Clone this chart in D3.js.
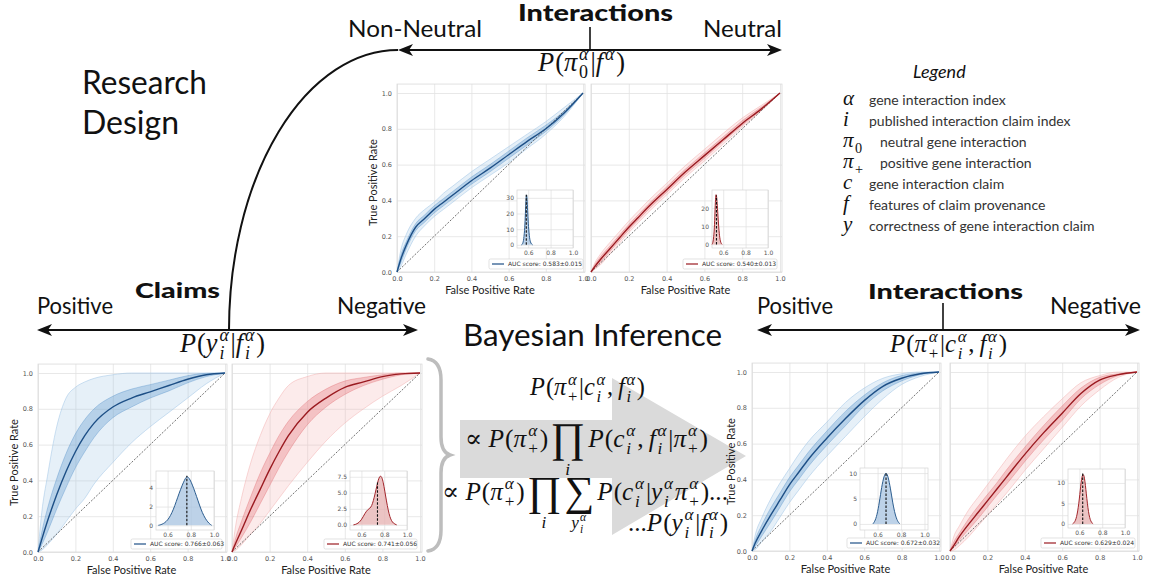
<!DOCTYPE html>
<html>
<head>
<meta charset="utf-8">
<script src="https://d3js.org/d3.v7.min.js"></script>
<style>
  body { margin: 0; background: #fff; }
  text { fill: #111; }
</style>
</head>
<body>
<div id="chart"></div>
<script>

// ---------------- DATA ----------------

// common false positive rate grid for every ROC curve
var fprGrid = [0, 0.02, 0.05, 0.1, 0.15, 0.2, 0.25, 0.3, 0.4, 0.5, 0.6, 0.7, 0.8, 0.9, 1.0];

// top-left: interactions, neutral model (blue)
var tlMean  = [0, 0.07, 0.15, 0.25, 0.30, 0.35, 0.39, 0.43, 0.51, 0.58, 0.655, 0.73, 0.80, 0.89, 1];
var tlInLo  = [0, 0.05, 0.13, 0.23, 0.28, 0.33, 0.37, 0.41, 0.49, 0.56, 0.635, 0.71, 0.785, 0.88, 1];
var tlInHi  = [0, 0.09, 0.17, 0.27, 0.32, 0.37, 0.41, 0.45, 0.53, 0.60, 0.675, 0.75, 0.82, 0.90, 1];
var tlOutLo = [0, 0.03, 0.10, 0.20, 0.26, 0.31, 0.35, 0.39, 0.47, 0.54, 0.61, 0.69, 0.77, 0.87, 1];
var tlOutHi = [0, 0.12, 0.21, 0.30, 0.35, 0.39, 0.44, 0.48, 0.56, 0.63, 0.70, 0.77, 0.84, 0.92, 1];

// top-right (red)
var trMean  = [0, 0.03, 0.07, 0.13, 0.19, 0.25, 0.305, 0.36, 0.46, 0.56, 0.65, 0.74, 0.83, 0.91, 1];
var trInLo  = [0, 0.02, 0.055, 0.115, 0.175, 0.235, 0.29, 0.345, 0.445, 0.545, 0.635, 0.73, 0.82, 0.905, 1];
var trInHi  = [0, 0.04, 0.085, 0.145, 0.205, 0.265, 0.32, 0.375, 0.475, 0.575, 0.665, 0.755, 0.845, 0.92, 1];
var trOutLo = [0, 0.015, 0.04, 0.10, 0.16, 0.22, 0.275, 0.33, 0.43, 0.53, 0.62, 0.715, 0.81, 0.90, 1];
var trOutHi = [0, 0.05, 0.10, 0.165, 0.225, 0.285, 0.34, 0.395, 0.495, 0.595, 0.685, 0.775, 0.86, 0.93, 1];

// bottom-left: claims (blue)
var bl1Mean  = [0, 0.07, 0.17, 0.32, 0.45, 0.56, 0.65, 0.72, 0.81, 0.86, 0.895, 0.93, 0.965, 0.99, 1];
var bl1InLo  = [0, 0.04, 0.11, 0.24, 0.36, 0.47, 0.56, 0.64, 0.75, 0.81, 0.86, 0.90, 0.945, 0.98, 1];
var bl1InHi  = [0, 0.11, 0.24, 0.41, 0.55, 0.66, 0.74, 0.80, 0.87, 0.91, 0.935, 0.96, 0.985, 0.998, 1];
var bl1OutLo = [0, 0.01, 0.04, 0.10, 0.17, 0.24, 0.30, 0.38, 0.50, 0.61, 0.70, 0.78, 0.86, 0.94, 1];
var bl1OutHi = [0, 0.22, 0.42, 0.70, 0.86, 0.92, 0.95, 0.97, 0.99, 1, 1, 1, 1, 1, 1];

// bottom-left: claims (red)
var bl2Mean  = [0, 0.05, 0.12, 0.24, 0.35, 0.46, 0.56, 0.65, 0.78, 0.86, 0.92, 0.95, 0.98, 0.995, 1];
var bl2InLo  = [0, 0.03, 0.08, 0.17, 0.27, 0.37, 0.47, 0.56, 0.71, 0.81, 0.88, 0.93, 0.965, 0.99, 1];
var bl2InHi  = [0, 0.08, 0.17, 0.31, 0.44, 0.55, 0.65, 0.73, 0.84, 0.91, 0.955, 0.975, 0.99, 1, 1];
var bl2OutLo = [0, 0.01, 0.04, 0.10, 0.16, 0.23, 0.30, 0.37, 0.50, 0.62, 0.72, 0.80, 0.87, 0.93, 1];
var bl2OutHi = [0, 0.15, 0.30, 0.50, 0.65, 0.77, 0.86, 0.93, 0.98, 1, 1, 1, 1, 1, 1];

// bottom-right: interactions (blue)
var br1Mean  = [0, 0.05, 0.11, 0.20, 0.285, 0.37, 0.44, 0.51, 0.63, 0.74, 0.84, 0.92, 0.965, 0.99, 1];
var br1InLo  = [0, 0.03, 0.08, 0.16, 0.245, 0.33, 0.40, 0.47, 0.59, 0.70, 0.81, 0.895, 0.95, 0.985, 1];
var br1InHi  = [0, 0.07, 0.14, 0.24, 0.325, 0.41, 0.48, 0.55, 0.67, 0.78, 0.87, 0.94, 0.98, 0.995, 1];
var br1OutLo = [0, 0.01, 0.05, 0.11, 0.19, 0.27, 0.34, 0.41, 0.53, 0.64, 0.75, 0.85, 0.93, 0.975, 1];
var br1OutHi = [0, 0.10, 0.18, 0.29, 0.38, 0.46, 0.54, 0.61, 0.72, 0.83, 0.91, 0.965, 0.99, 1, 1];

// bottom-right: interactions (red)
var br2Mean  = [0, 0.03, 0.08, 0.15, 0.215, 0.28, 0.345, 0.41, 0.54, 0.66, 0.77, 0.88, 0.955, 0.985, 1];
var br2InLo  = [0, 0.02, 0.06, 0.12, 0.18, 0.245, 0.31, 0.37, 0.50, 0.62, 0.73, 0.85, 0.93, 0.98, 1];
var br2InHi  = [0, 0.05, 0.10, 0.18, 0.25, 0.315, 0.38, 0.45, 0.58, 0.70, 0.81, 0.91, 0.97, 0.99, 1];
var br2OutLo = [0, 0.005, 0.03, 0.08, 0.14, 0.20, 0.26, 0.32, 0.45, 0.57, 0.69, 0.81, 0.90, 0.97, 1];
var br2OutHi = [0, 0.08, 0.14, 0.23, 0.30, 0.37, 0.44, 0.51, 0.64, 0.75, 0.85, 0.94, 0.98, 1, 1];

// AUC density insets
var tlKdeX  = [0.54, 0.55, 0.56, 0.57, 0.575, 0.58, 0.585, 0.59, 0.595, 0.60, 0.61, 0.62, 0.63, 0.64];
var tlKdeY  = [0, 0.5, 3, 11, 20, 29, 33, 30, 22, 14, 5, 1.5, 0.5, 0];
var trKdeX  = [0.50, 0.51, 0.52, 0.525, 0.53, 0.535, 0.54, 0.545, 0.55, 0.56, 0.57, 0.58, 0.59];
var trKdeY  = [0, 1, 7, 15, 24, 28, 27, 24, 19, 9, 3, 0.6, 0];
var bl1KdeX = [0.52, 0.55, 0.6, 0.65, 0.7, 0.75, 0.77, 0.8, 0.85, 0.9, 0.95, 0.98];
var bl1KdeY = [0, 0.08, 0.45, 1.6, 3.5, 5.0, 5.3, 4.8, 3.1, 1.2, 0.25, 0];
var bl2KdeX = [0.53, 0.56, 0.6, 0.63, 0.66, 0.69, 0.72, 0.75, 0.77, 0.79, 0.82, 0.85, 0.88, 0.91];
var bl2KdeY = [0, 0.1, 0.7, 1.8, 2.5, 2.7, 4.8, 7.3, 7.8, 7.0, 3.6, 1.0, 0.2, 0];
var br1KdeX = [0.56, 0.58, 0.6, 0.62, 0.64, 0.66, 0.675, 0.69, 0.71, 0.73, 0.75, 0.77, 0.79];
var br1KdeY = [0, 0.6, 2.2, 5, 8, 9.8, 10.1, 9.3, 7, 4, 1.8, 0.5, 0];
var br2KdeX = [0.54, 0.56, 0.58, 0.6, 0.615, 0.63, 0.645, 0.66, 0.68, 0.70, 0.72];
var br2KdeY = [0, 0.4, 2, 6, 10.5, 12.5, 11.5, 7.5, 2.5, 0.5, 0];

var aucMeans  = [0.583, 0.540, 0.766, 0.741, 0.672, 0.629];
var dashTops  = [32, 27, 5.3, 6.6, 10, 12.5];
var aucLabels = ["AUC score: 0.583±0.015", "AUC score: 0.540±0.013",
                 "AUC score: 0.766±0.063", "AUC score: 0.741±0.056",
                 "AUC score: 0.672±0.032", "AUC score: 0.629±0.024"];

var rocTicks    = [0, 0.2, 0.4, 0.6, 0.8, 1.0];
var insetXTicks = [0.6, 0.8, 1.0];
var insetYTicks = [[0, 10, 20, 30], [0, 10, 20], [0, 2, 4], [0, 2.5, 5, 7.5], [0, 5, 10], [0, 5, 10]];
var insetYFmt   = ["d", "d", "d", ".1f", "d", "d"];

var legendTexts = ["gene interaction index", "published interaction claim index",
                   "neutral gene interaction", "positive gene interaction",
                   "gene interaction claim", "features of claim provenance",
                   "correctness of gene interaction claim"];

// ---------------- SETUP ----------------

var W = 1149, H = 582;
var SANS = "Lato, 'Open Sans', sans-serif";
var SERIF = "'Liberation Serif', 'DejaVu Serif', serif";

var palette = {
    blue: { out: "#9cc2e4", inn: "#4a8ac6", line: "#1d4f86", kde: "#a7c3e0", kdeLine: "#2c5d8f" },
    red:  { out: "#f3b0b0", inn: "#e0646a", line: "#9a1a20", kde: "#e6b0b0", kdeLine: "#a3262c" }
};

var svg = d3.select("#chart").append("svg")
    .attr("width", W)
    .attr("height", H);

svg.append("rect").attr("width", W).attr("height", H).attr("fill", "#fff");

// math token helpers
function V(t) { return { t: t, it: true, pad: 0 }; }
function R(t, pad) { return { t: t, it: false, pad: pad || 0 }; }
function S(sup, sub, subUp) { return { sup: sup, sub: sub, subUp: subUp, isScript: true }; }
function OP(o, under) { return { op: o, under: under }; }

function drawMath(parent, tokens, size) {
    var g = parent.append("g").attr("font-family", SERIF);
    var x = 0;
    tokens.forEach(function(tk) {
        if (tk.op) {
            var big = g.append("text").attr("x", x).attr("y", size * 0.2)
                .attr("font-size", size * 1.65).text(tk.op);
            var w = big.node().getComputedTextLength();
            if (tk.under) {
                var u = drawMath(g, tk.under, size * 0.68);
                u.g.attr("transform", "translate(" + (x + (w - u.w) / 2) + "," + (size * 1.1) + ")");
            }
            x += w + size * 0.12;
        } else if (tk.isScript) {
            var ww = 0;
            if (tk.sup) {
                var e1 = g.append("text").attr("x", x + size * 0.03).attr("y", -size * 0.42)
                    .attr("font-size", size * 0.68).attr("font-style", "italic").text(tk.sup);
                ww = Math.max(ww, e1.node().getComputedTextLength());
            }
            if (tk.sub) {
                var e2 = g.append("text").attr("x", x + size * 0.03).attr("y", size * 0.28)
                    .attr("font-size", size * 0.68).attr("font-style", tk.subUp ? "normal" : "italic").text(tk.sub);
                ww = Math.max(ww, e2.node().getComputedTextLength());
            }
            x += ww + size * 0.1;
        } else {
            var e = g.append("text").attr("x", x).attr("font-size", size)
                .attr("font-style", tk.it ? "italic" : "normal").text(tk.t);
            x += e.node().getComputedTextLength() + tk.pad * size + (tk.it ? size * 0.04 : 0);
        }
    });
    return { g: g, w: x };
}

// place formula with left edge x, baseline y, scaled to target width
function placeMath(tokens, x, y, targetW) {
    var m = drawMath(svg, tokens, 20);
    var k = targetW / m.w;
    m.g.attr("transform", "translate(" + x + "," + y + ") scale(" + k + ")");
}

function label(txt, x, y, size, opt) {
    opt = opt || {};
    var t = svg.append("text")
        .attr("x", x).attr("y", y)
        .attr("font-family", SANS)
        .attr("font-size", size)
        .attr("font-weight", opt.bold ? 900 : 400)
        .attr("font-style", opt.italic ? "italic" : "normal")
        .text(txt);
    if (opt.width) t.attr("textLength", opt.width).attr("lengthAdjust", "spacingAndGlyphs");
    return t;
}

function arrowHead(tx, ty, dir) {
    // dir: -1 points left, +1 points right
    var d = "M" + tx + "," + ty +
        " L" + (tx - dir * 15) + "," + (ty - 6) +
        " L" + (tx - dir * 11) + "," + ty +
        " L" + (tx - dir * 15) + "," + (ty + 6) + " Z";
    svg.append("path").attr("d", d).attr("fill", "#111");
}

function axisLine(xa, xb, y) {
    svg.append("line").attr("x1", xa + 4).attr("x2", xb - 4).attr("y1", y).attr("y2", y)
        .attr("stroke", "#111").attr("stroke-width", 2);
    arrowHead(xa, y, -1);
    arrowHead(xb, y, 1);
}

// ---------------- BACKGROUND DECORATION ----------------

// big gray arrow behind the inference formulas
svg.append("path")
    .attr("d", "M460,420 L612,420 L612,378 L746,456 L612,535 L612,478 L460,478 Z")
    .attr("fill", "#dadada");

// curly brace
svg.append("path")
    .attr("d", "M428,359 Q441,361 441,380 L441,437 Q441,452 450,455 Q441,458 441,473 L441,530 Q441,549 428,551")
    .attr("fill", "none").attr("stroke", "#bdbdbd").attr("stroke-width", 3.5).attr("stroke-linecap", "round");

// ---------------- AXES / HEADERS ----------------

axisLine(398, 782, 50);
svg.append("line").attr("x1", 590).attr("x2", 590).attr("y1", 27).attr("y2", 50)
    .attr("stroke", "#111").attr("stroke-width", 1.6);

axisLine(37, 418, 330);
svg.append("path").attr("d", "M229,330 A169,280 0 0 1 398,50")
    .attr("fill", "none").attr("stroke", "#111").attr("stroke-width", 2);

axisLine(757, 1140, 330);
svg.append("line").attr("x1", 943).attr("x2", 943).attr("y1", 303).attr("y2", 330)
    .attr("stroke", "#111").attr("stroke-width", 1.6);

label("Interactions", 518, 21, 22, { bold: true, width: 155 });
label("Non-Neutral", 348, 37, 24, { width: 134 });
label("Neutral", 703, 37, 24, { width: 79 });
label("Research", 82, 94, 33, { width: 125 });
label("Design", 82, 134, 33, { width: 97 });
label("Claims", 135, 298, 21, { bold: true, width: 85 });
label("Positive", 37, 314, 23, { width: 76 });
label("Negative", 337, 314, 23, { width: 89 });
label("Interactions", 868, 299, 21, { bold: true, width: 155 });
label("Positive", 757, 314, 23, { width: 76 });
label("Negative", 1050, 314, 23, { width: 91 });
label("Bayesian Inference", 463, 346, 31, { width: 259 });

// formulas
var fTop    = [V("P"), R("("), V("π"), S("α", "0", true), R("|"), V("f"), S("α"), R(")")];
var fClaims = [V("P"), R("("), V("y"), S("α", "i"), R("|"), V("f"), S("α", "i"), R(")")];
var fInter  = [V("P"), R("("), V("π"), S("α", "+", true), R("|"), V("c"), S("α", "i"), R(",", 0.2), V("f"), S("α", "i"), R(")")];
var fLine2  = [R("∝", 0.25), V("P"), R("("), V("π"), S("α", "+", true), R(")", 0.1), OP("∏", [V("i")]),
               V("P"), R("("), V("c"), S("α", "i"), R(",", 0.2), V("f"), S("α", "i"), R("|"), V("π"), S("α", "+", true), R(")")];
var fLine3  = [R("∝", 0.25), V("P"), R("("), V("π"), S("α", "+", true), R(")", 0.1), OP("∏", [V("i")]),
               OP("∑", [V("y"), S("α", "i")]), V("P"), R("("), V("c"), S("α", "i"), R("|"), V("y"), S("α", "i"),
               V("π"), S("α", "+", true), R(")...")];
var fLine4  = [R("..."), V("P"), R("("), V("y"), S("α", "i"), R("|"), V("f"), S("α", "i"), R(")")];

placeMath(fTop, 538, 71, 87);
placeMath(fClaims, 180, 352, 85);
placeMath(fInter, 890, 352, 117);
placeMath(fInter, 530, 395, 115);
placeMath(fLine2, 465, 447, 243);
placeMath(fLine3, 442, 500, 286);
placeMath(fLine4, 628, 531, 100);

// ---------------- LEGEND ----------------

label("Legend", 913, 78, 18, { italic: true });
var legendSymbols = [
    [V("α")], [V("i")], [V("π"), S(null, "0", true)], [V("π"), S(null, "+", true)],
    [V("c")], [V("f")], [V("y")]
];
legendTexts.forEach(function(t, i) {
    var yb = 105 + i * 21;
    var m = drawMath(svg, legendSymbols[i], 21);
    m.g.attr("transform", "translate(843," + yb + ")");
    svg.append("text")
        .attr("x", (i === 2 || i === 3) ? 880 : 869).attr("y", yb)
        .attr("font-family", SANS).attr("font-size", 14).style("fill", "#333")
        .text(t);
});

// ---------------- ROC PANELS ----------------

var panels = [
    { x0: 397, x1: 583, yb: 272, yt: 93, col: "blue", yLab: true, labX: 377,
      mean: tlMean, inLo: tlInLo, inHi: tlInHi, outLo: tlOutLo, outHi: tlOutHi, kx: tlKdeX, ky: tlKdeY,
      inset: { x: 517, y: 190, w: 56, h: 58, xd: [0.5, 1.0], yd: [-2, 35] }, leg: { x: 489, y: 259, w: 94 } },
    { x0: 591, x1: 780, yb: 272, yt: 93, col: "red", yLab: false,
      mean: trMean, inLo: trInLo, inHi: trInHi, outLo: trOutLo, outHi: trOutHi, kx: trKdeX, ky: trKdeY,
      inset: { x: 712, y: 190, w: 56, h: 58, xd: [0.5, 1.0], yd: [-2, 30] }, leg: { x: 683, y: 259, w: 94 } },
    { x0: 38, x1: 225, yb: 552, yt: 373, col: "blue", yLab: true, labX: 18,
      mean: bl1Mean, inLo: bl1InLo, inHi: bl1InHi, outLo: bl1OutLo, outHi: bl1OutHi, kx: bl1KdeX, ky: bl1KdeY,
      inset: { x: 156, y: 471, w: 58, h: 59, xd: [0.5, 1.0], yd: [-0.5, 5.8] }, leg: { x: 131, y: 539, w: 91 } },
    { x0: 232, x1: 420, yb: 552, yt: 373, col: "red", yLab: false,
      mean: bl2Mean, inLo: bl2InLo, inHi: bl2InHi, outLo: bl2OutLo, outHi: bl2OutHi, kx: bl2KdeX, ky: bl2KdeY,
      inset: { x: 350, y: 471, w: 57, h: 59, xd: [0.5, 1.0], yd: [-0.8, 8.4] }, leg: { x: 324, y: 539, w: 93 } },
    { x0: 752, x1: 939, yb: 551, yt: 372, col: "blue", yLab: true, labX: 735,
      mean: br1Mean, inLo: br1InLo, inHi: br1InHi, outLo: br1OutLo, outHi: br1OutHi, kx: br1KdeX, ky: br1KdeY,
      inset: { x: 860, y: 468, w: 68, h: 62, xd: [0.45, 1.03], yd: [-1.2, 11] }, leg: { x: 847, y: 538, w: 93 } },
    { x0: 950, x1: 1137, yb: 551, yt: 372, col: "red", yLab: false,
      mean: br2Mean, inLo: br2InLo, inHi: br2InHi, outLo: br2OutLo, outHi: br2OutHi, kx: br2KdeX, ky: br2KdeY,
      inset: { x: 1068, y: 469, w: 57, h: 59, xd: [0.5, 1.0], yd: [-1, 13.4] }, leg: { x: 1041, y: 538, w: 94 } }
];

function styleAxis(sel, size) {
    sel.select(".domain").remove();
    sel.selectAll(".tick line").remove();
    sel.selectAll("text")
        .attr("font-family", "'DejaVu Sans', sans-serif")
        .attr("font-size", size)
        .style("fill", "#555");
}

function drawPanel(p, idx) {
    var pal = palette[p.col];
    var g = svg.append("g");
    var x = d3.scaleLinear().domain([0, 1]).range([p.x0, p.x1]);
    var y = d3.scaleLinear().domain([0, 1]).range([p.yb, p.yt]);
    var top = y(1.05);

    g.append("rect")
        .attr("x", p.x0).attr("y", top)
        .attr("width", p.x1 - p.x0 + 2).attr("height", p.yb - top)
        .attr("fill", "#fff");

    // grid
    g.append("g").attr("transform", "translate(0," + p.yb + ")")
        .call(d3.axisBottom(x).tickValues(rocTicks).tickSize(-(p.yb - top)).tickFormat(""))
        .call(function(a) {
            a.select(".domain").remove();
            a.selectAll("line").attr("stroke", "#e2e2e2").attr("stroke-width", 0.8);
        });
    g.append("g").attr("transform", "translate(" + p.x0 + ",0)")
        .call(d3.axisLeft(y).tickValues(rocTicks).tickSize(-(p.x1 - p.x0 + 2)).tickFormat(""))
        .call(function(a) {
            a.select(".domain").remove();
            a.selectAll("line").attr("stroke", "#e2e2e2").attr("stroke-width", 0.8);
        });
    g.append("rect")
        .attr("x", p.x0).attr("y", top)
        .attr("width", p.x1 - p.x0 + 2).attr("height", p.yb - top)
        .attr("fill", "none").attr("stroke", "#dadada").attr("stroke-width", 0.8);

    // tick labels
    g.append("g").attr("transform", "translate(0," + (p.yb + 1) + ")")
        .call(d3.axisBottom(x).tickValues(rocTicks).tickSize(0).tickPadding(3).tickFormat(d3.format(".1f")))
        .call(styleAxis, 6.5);
    if (p.yLab) {
        g.append("g").attr("transform", "translate(" + (p.x0 - 1) + ",0)")
            .call(d3.axisLeft(y).tickValues(rocTicks).tickSize(0).tickPadding(4).tickFormat(d3.format(".1f")))
            .call(styleAxis, 6.5);
        g.append("text")
            .attr("transform", "translate(" + p.labX + "," + ((p.yb + p.yt) / 2) + ") rotate(-90)")
            .attr("text-anchor", "middle")
            .attr("font-family", SANS).attr("font-size", 11)
            .style("fill", "#222")
            .text("True Positive Rate");
    }
    g.append("text")
        .attr("x", (p.x0 + p.x1) / 2).attr("y", p.yb + 22)
        .attr("text-anchor", "middle")
        .attr("font-family", SANS).attr("font-size", 11)
        .style("fill", "#222")
        .text("False Positive Rate");

    // bootstrap bands
    var rows = fprGrid.map(function(f, i) {
        return { f: f, m: p.mean[i], il: p.inLo[i], ih: p.inHi[i], ol: p.outLo[i], oh: p.outHi[i] };
    });
    var band = function(lo, hi) {
        return d3.area().curve(d3.curveMonotoneX)
            .x(function(d) { return x(d.f); })
            .y0(function(d) { return y(d[lo]); })
            .y1(function(d) { return y(d[hi]); });
    };
    var line = function(k) {
        return d3.line().curve(d3.curveMonotoneX)
            .x(function(d) { return x(d.f); })
            .y(function(d) { return y(d[k]); });
    };
    g.append("path").datum(rows).attr("d", band("ol", "oh"))
        .attr("fill", pal.out).attr("fill-opacity", 0.25);
    g.append("path").datum(rows).attr("d", band("il", "ih"))
        .attr("fill", pal.inn).attr("fill-opacity", 0.3);
    ["ol", "oh"].forEach(function(k) {
        g.append("path").datum(rows).attr("d", line(k))
            .attr("fill", "none").attr("stroke", pal.out).attr("stroke-width", 0.7).attr("stroke-opacity", 0.7);
    });
    ["il", "ih"].forEach(function(k) {
        g.append("path").datum(rows).attr("d", line(k))
            .attr("fill", "none").attr("stroke", pal.inn).attr("stroke-width", 0.7).attr("stroke-opacity", 0.5);
    });

    // chance diagonal
    g.append("line")
        .attr("x1", x(0)).attr("y1", y(0)).attr("x2", x(1)).attr("y2", y(1))
        .attr("stroke", "#333").attr("stroke-width", 0.7).attr("stroke-dasharray", "2,1.5");

    // mean ROC
    g.append("path").datum(rows).attr("d", line("m"))
        .attr("fill", "none").attr("stroke", pal.line).attr("stroke-width", 1.4);

    // inset density of AUC
    var ins = p.inset;
    var ix = d3.scaleLinear().domain(ins.xd).range([ins.x, ins.x + ins.w]);
    var iy = d3.scaleLinear().domain(ins.yd).range([ins.y + ins.h, ins.y]);
    g.append("rect").attr("x", ins.x).attr("y", ins.y).attr("width", ins.w).attr("height", ins.h)
        .attr("fill", "#fff");
    g.append("g").attr("transform", "translate(0," + (ins.y + ins.h) + ")")
        .call(d3.axisBottom(ix).tickValues(insetXTicks).tickSize(-ins.h).tickFormat(""))
        .call(function(a) { a.select(".domain").remove(); a.selectAll("line").attr("stroke", "#e0e0e0").attr("stroke-width", 0.7); });
    g.append("g").attr("transform", "translate(" + ins.x + ",0)")
        .call(d3.axisLeft(iy).tickValues(insetYTicks[idx]).tickSize(-ins.w).tickFormat(""))
        .call(function(a) { a.select(".domain").remove(); a.selectAll("line").attr("stroke", "#e0e0e0").attr("stroke-width", 0.7); });
    g.append("rect").attr("x", ins.x).attr("y", ins.y).attr("width", ins.w).attr("height", ins.h)
        .attr("fill", "none").attr("stroke", "#d4d4d4").attr("stroke-width", 0.7);
    g.append("g").attr("transform", "translate(0," + (ins.y + ins.h) + ")")
        .call(d3.axisBottom(ix).tickValues(insetXTicks).tickSize(0).tickPadding(3).tickFormat(d3.format(".1f")))
        .call(styleAxis, 6);
    g.append("g").attr("transform", "translate(" + ins.x + ",0)")
        .call(d3.axisLeft(iy).tickValues(insetYTicks[idx]).tickSize(0).tickPadding(3).tickFormat(d3.format(insetYFmt[idx])))
        .call(styleAxis, 6);

    var kde = p.kx.map(function(v, i) { return { a: v, d: p.ky[i] }; });
    g.append("path").datum(kde)
        .attr("d", d3.area().curve(d3.curveBasis)
            .x(function(d) { return ix(d.a); }).y0(iy(0)).y1(function(d) { return iy(d.d); }))
        .attr("fill", pal.kde).attr("fill-opacity", 0.75);
    g.append("path").datum(kde)
        .attr("d", d3.line().curve(d3.curveBasis)
            .x(function(d) { return ix(d.a); }).y(function(d) { return iy(d.d); }))
        .attr("fill", "none").attr("stroke", pal.kdeLine).attr("stroke-width", 1);
    g.append("line")
        .attr("x1", ix(aucMeans[idx])).attr("x2", ix(aucMeans[idx]))
        .attr("y1", iy(0)).attr("y2", iy(dashTops[idx]))
        .attr("stroke", "#111").attr("stroke-width", 1.1).attr("stroke-dasharray", "2.5,1.5");

    // legend box
    var lg = p.leg;
    g.append("rect").attr("x", lg.x).attr("y", lg.y).attr("width", lg.w).attr("height", 10)
        .attr("rx", 1.5).attr("fill", "#fff").attr("stroke", "#d6d6d6").attr("stroke-width", 0.7);
    g.append("line").attr("x1", lg.x + 3).attr("x2", lg.x + 15)
        .attr("y1", lg.y + 5).attr("y2", lg.y + 5)
        .attr("stroke", pal.line).attr("stroke-width", 1.2);
    g.append("text").attr("x", lg.x + 19).attr("y", lg.y + 7.3)
        .attr("font-family", "'DejaVu Sans', sans-serif").attr("font-size", 6)
        .style("fill", "#333")
        .text(aucLabels[idx]);
}

panels.forEach(drawPanel);

</script>
</body>
</html>
